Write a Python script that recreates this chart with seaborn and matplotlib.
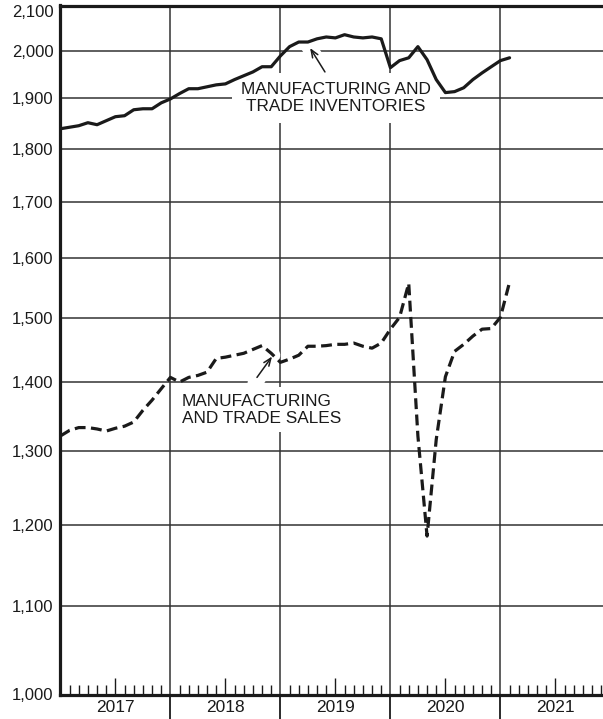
import numpy as np
import pandas as pd
import matplotlib
matplotlib.use('Agg')
import matplotlib.pyplot as plt
import seaborn as sns
from matplotlib.ticker import FixedLocator, FixedFormatter, FuncFormatter, NullLocator

# ---- data (billions of dollars, monthly) ----
months = pd.date_range('2017-01-01', periods=50, freq='MS')

inventories = [1839, 1842, 1845, 1851, 1847, 1855, 1863, 1865, 1877, 1879, 1879, 1891,
               1899, 1910, 1920, 1920, 1924, 1928, 1930, 1939, 1947, 1955, 1966, 1966,
               1989, 2009, 2019, 2019, 2026, 2030, 2028, 2035, 2030, 2028, 2030, 2026,
               1964, 1979, 1985, 2009, 1981, 1939, 1912, 1914, 1922, 1939, 1953, 1966,
               1979, 1985]
sales = [1321, 1329, 1333, 1333, 1331, 1328, 1332, 1335, 1341, 1358, 1373, 1390,
         1407, 1400, 1407, 1410, 1415, 1436, 1438, 1441, 1444, 1450, 1456, 1444,
         1430, 1435, 1441, 1455, 1455, 1456, 1458, 1458, 1460, 1455, 1452, 1460,
         1482, 1501, 1557, 1321, 1186, 1316, 1408, 1447, 1458, 1471, 1482, 1483,
         1501, 1559]

years = [2017, 2018, 2019, 2020, 2021]
y_ticks = [1000, 1100, 1200, 1300, 1400, 1500, 1600, 1700, 1800, 1900, 2000, 2100]

inv_label = 'MANUFACTURING AND\nTRADE INVENTORIES'
sales_label = 'MANUFACTURING\nAND TRADE SALES'

# ---- tidy frame ----
t = months.year + (months.month - 1) / 12
df = pd.DataFrame({
    't': np.concatenate([t, t]),
    'value': inventories + sales,
    'series': ['Inventories'] * len(t) + ['Sales'] * len(t),
})

# ---- plot ----
sns.set_style('white')
plt.rcParams['font.family'] = ['Liberation Sans', 'DejaVu Sans']
ink = '#1a1a1a'

fig = plt.figure(figsize=(6.03, 7.19), dpi=100)
ax = fig.add_axes([60.4 / 603, 24.5 / 719, 1 - 60.4 / 603, 689 / 719])

sns.lineplot(data=df, x='t', y='value', style='series',
             dashes={'Inventories': '', 'Sales': (3.4, 1.7)},
             color=ink, lw=2.3, legend=False, ax=ax, zorder=5)

ax.set_yscale('log')
ax.set_ylim(1000, 2100)
ax.set_xlim(years[0], years[0] + (603 - 60.4) / 110)

ax.yaxis.set_major_locator(FixedLocator(y_ticks))
ax.yaxis.set_minor_locator(NullLocator())
ax.yaxis.set_major_formatter(FuncFormatter(lambda v, p: f'{v:,.0f}'))
ax.tick_params(axis='y', length=0, pad=5, labelsize=12, labelcolor=ink)
ax.get_yticklabels()[-1].set_va('top')

# year boundaries (major) and months (minor)
bounds = [y for y in years[1:]] + [years[-1] + 1]
ax.xaxis.set_major_locator(FixedLocator(bounds))
ax.xaxis.set_major_formatter(FixedFormatter([''] * len(bounds)))
month_pos = [y + m / 12 for y in years for m in range(1, 12)]
month_lab = [str(y) if m == 6 else '' for y in years for m in range(1, 12)]
ax.xaxis.set_minor_locator(FixedLocator(month_pos))
ax.xaxis.set_minor_formatter(FixedFormatter(month_lab))
ax.tick_params(axis='x', which='both', bottom=True, labelbottom=True)
ax.tick_params(axis='x', which='major', direction='out', length=19, width=1.3, color=ink)
ax.tick_params(axis='x', which='minor', direction='in', length=7.5, width=1.0, color=ink,
               pad=4, labelsize=12.5, labelcolor=ink)
for tk, lab in zip(ax.xaxis.get_minor_ticks(), month_lab):
    if lab:
        tk.tick1line.set_markersize(12.5)

ax.grid(True, axis='y', which='major', color='#333333', lw=1.1, zorder=0)
ax.grid(True, axis='x', which='major', color='#333333', lw=1.1, zorder=0)
ax.set_axisbelow(True)

for side in ['left', 'bottom', 'top']:
    ax.spines[side].set_linewidth(2.3)
    ax.spines[side].set_color(ink)
ax.spines['right'].set_visible(False)
ax.set_xlabel('')
ax.set_ylabel('')

# ---- annotations ----
arrow_kw = dict(arrowstyle='->,head_length=0.55,head_width=0.22',
                lw=1.1, color=ink, shrinkA=0, shrinkB=0)
gap_kw = dict(arrowstyle='-', lw=11, color='white', shrinkA=0, shrinkB=0)

# inventories: white cut through the gridline, then the arrow
ax.annotate('', xy=(2019.25, 2012), xytext=(2019.42, 1950), arrowprops=gap_kw, zorder=1)
ax.annotate('', xy=(2019.27, 2006), xytext=(2019.405, 1955), arrowprops=arrow_kw, zorder=3)
ax.text(2019.505, 1901, inv_label, ha='center', va='center', fontsize=12.4,
        color=ink, linespacing=1.15, zorder=4,
        bbox=dict(boxstyle='square,pad=0.55', fc='white', ec='none'))

# sales
ax.annotate('', xy=(2018.93, 1441), xytext=(2018.77, 1398), arrowprops=gap_kw, zorder=1)
ax.annotate('', xy=(2018.924, 1439), xytext=(2018.787, 1407), arrowprops=arrow_kw, zorder=3)
ax.text(2018.105, 1359, sales_label, ha='left', va='center', fontsize=12.4,
        color=ink, linespacing=1.15, zorder=4,
        bbox=dict(boxstyle='square,pad=0.4', fc='white', ec='none'))

fig.savefig('out.png', dpi=100)
